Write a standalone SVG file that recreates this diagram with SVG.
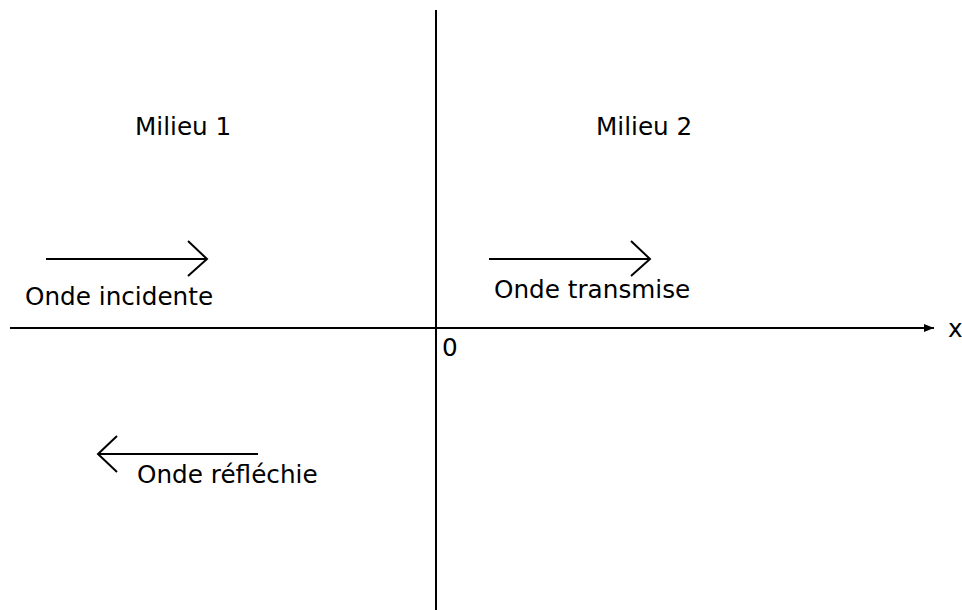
<svg xmlns="http://www.w3.org/2000/svg" width="962" height="610" viewBox="0 0 962 610">
<style>
.l{stroke:#000;stroke-width:2;fill:none}
.t{font-family:"DejaVu Sans",sans-serif;font-size:24.7px;fill:#000}
</style>
<defs>
<marker id="ah" markerUnits="userSpaceOnUse" markerWidth="12" markerHeight="10" refX="10" refY="5" orient="auto">
<path d="M0,1 L10,5 L0,9 Z" fill="#000"/>
</marker>
</defs>
<rect width="962" height="610" fill="#fff"/>
<g id="axes">
<line class="l" x1="436" y1="10" x2="436" y2="610"/>
<line class="l" x1="10" y1="328" x2="934" y2="328" marker-end="url(#ah)"/>
<text class="t" x="948" y="337">x</text>
<text class="t" x="442" y="356">0</text>
</g>
<g id="milieu1"><text class="t" x="135" y="135">Milieu 1</text></g>
<g id="milieu2"><text class="t" x="596" y="135">Milieu 2</text></g>
<g id="incidente">
<line class="l" x1="46" y1="259" x2="206" y2="259"/>
<polyline class="l" points="188,241 207,259 188,276"/>
<text class="t" x="25" y="305">Onde incidente</text>
</g>
<g id="transmise">
<line class="l" x1="489" y1="259" x2="649" y2="259"/>
<polyline class="l" points="631,241 650,259 631,276"/>
<text class="t" x="494" y="298">Onde transmise</text>
</g>
<g id="reflechie">
<line class="l" x1="99" y1="454" x2="258" y2="454"/>
<polyline class="l" points="117,436 98,454 117,472"/>
<text class="t" x="137" y="483">Onde réfléchie</text>
</g>
</svg>
